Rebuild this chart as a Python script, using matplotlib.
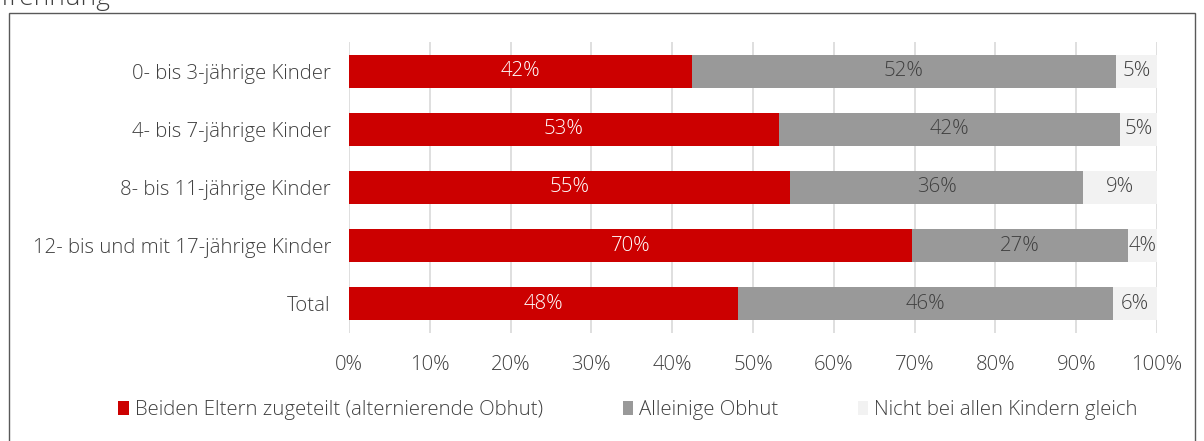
import matplotlib.pyplot as plt
from matplotlib.patches import Rectangle
from matplotlib.ticker import PercentFormatter

plt.rcParams["font.family"] = ["Open Sans", "DejaVu Sans"]
plt.rcParams["font.weight"] = "light"

# data
categories = [
    "0- bis 3-jährige Kinder",
    "4- bis 7-jährige Kinder",
    "8- bis 11-jährige Kinder",
    "12- bis und mit 17-jährige Kinder",
    "Total",
]
beide = [42.4, 53.2, 54.6, 69.7, 48.1]
alleinig = [52.5, 42.2, 36.3, 26.7, 46.4]
nicht_gleich = [5.1, 4.6, 9.1, 3.6, 5.5]
series_names = [
    "Beiden Eltern zugeteilt (alternierende Obhut)",
    "Alleinige Obhut",
    "Nicht bei allen Kindern gleich",
]

colors = ["#CC0000", "#999999", "#F2F2F2"]
label_colors = ["white", "#404040", "#404040"]
text_color = "#404040"
fs = 14.7

fig = plt.figure(figsize=(12.04, 4.41), dpi=100)
ax = fig.add_axes([349 / 1204, 1 - 333 / 441, (1157 - 349) / 1204, 291 / 441])

# outer frame and cut-off title
fig.add_artist(Rectangle((8.5 / 1204, -0.05), (1195 - 8.5) / 1204, 1.05 - 12.5 / 441,
                         transform=fig.transFigure, fill=False,
                         edgecolor="#595959", linewidth=1.0))
fig.text(-2 / 1204, 1 - 5 / 441, "Trennung", fontsize=19, color=text_color,
         va="baseline", ha="left")

y = list(range(len(categories)))
left = [0] * len(categories)
for vals, name, col, lcol in zip([beide, alleinig, nicht_gleich], series_names,
                                 colors, label_colors):
    bars = ax.barh(y, vals, left=left, height=0.57, color=col, label=name, zorder=3)
    for b, v in zip(bars, vals):
        ax.text(b.get_x() + b.get_width() / 2, b.get_y() + b.get_height() / 2,
                f"{round(v):d}%", ha="center", va="center", color=lcol,
                fontsize=fs, zorder=4)
    left = [l + v for l, v in zip(left, vals)]

ax.set_xlim(0, 100)
ax.set_ylim(4.5, -0.5)
ax.set_xticks(range(0, 101, 10))
ax.xaxis.set_major_formatter(PercentFormatter(decimals=0))
ax.set_yticks(y)
ax.set_yticklabels(categories)
ax.grid(axis="x", color="#D9D9D9", linewidth=1.2, zorder=0)
for s in ax.spines.values():
    s.set_visible(False)
ax.tick_params(length=0, labelsize=fs, labelcolor=text_color)
ax.tick_params(axis="x", pad=16)
ax.tick_params(axis="y", pad=13)

fig.legend(loc="center", bbox_to_anchor=(628 / 1204, 1 - 410 / 441), ncol=3,
           frameon=False, fontsize=fs, labelcolor=text_color,
           handlelength=0.5, handleheight=0.65, handletextpad=0.3,
           columnspacing=3.9)

fig.savefig("out.png", dpi=100)
